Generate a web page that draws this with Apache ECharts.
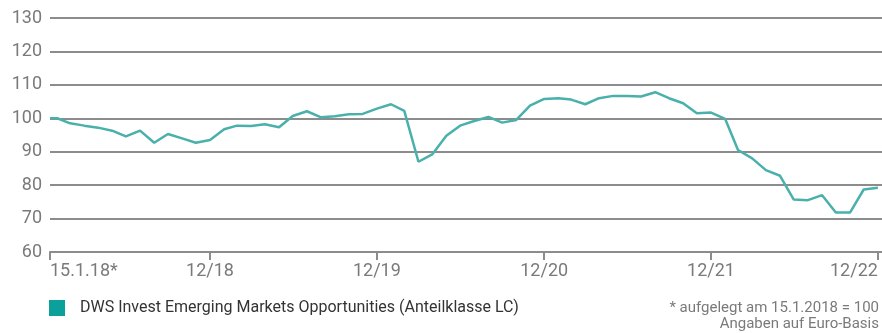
<!DOCTYPE html>
<html>
<head>
<meta charset="utf-8">
<script src="https://cdn.jsdelivr.net/npm/echarts@6/dist/echarts.min.js"></script>
<style>
html,body{margin:0;padding:0;background:#fff;}
#chart{width:882px;height:333px;}
</style>
</head>
<body>
<div id="chart"></div>
<script>
// Dates: launch date, then month-ends
const dates = [
  '2018-01-15',
  '2018-01-31','2018-02-28','2018-03-31','2018-04-30','2018-05-31','2018-06-30',
  '2018-07-31','2018-08-31','2018-09-30','2018-10-31','2018-11-30','2018-12-31',
  '2019-01-31','2019-02-28','2019-03-31','2019-04-30','2019-05-31','2019-06-30',
  '2019-07-31','2019-08-31','2019-09-30','2019-10-31','2019-11-30','2019-12-31',
  '2020-01-31','2020-02-29','2020-03-31','2020-04-30','2020-05-31','2020-06-30',
  '2020-07-31','2020-08-31','2020-09-30','2020-10-31','2020-11-30','2020-12-31',
  '2021-01-31','2021-02-28','2021-03-31','2021-04-30','2021-05-31','2021-06-30',
  '2021-07-31','2021-08-31','2021-09-30','2021-10-31','2021-11-30','2021-12-31',
  '2022-01-31','2022-02-28','2022-03-31','2022-04-30','2022-05-31','2022-06-30',
  '2022-07-31','2022-08-31','2022-09-30','2022-10-31','2022-11-30','2022-12-31'
];
const values = [
  100.0,
  100.0, 98.5, 97.8, 97.2, 96.3, 94.6, 96.3, 92.7, 95.3, 94.0, 92.7, 93.5,
  96.7, 97.8, 97.7, 98.2, 97.3, 100.7, 102.1, 100.3, 100.6, 101.2, 101.3, 102.9,
  104.2, 102.2, 87.0, 89.2, 94.8, 97.8, 99.2, 100.4, 98.7, 99.5, 103.8, 105.8,
  106.0, 105.6, 104.2, 106.0, 106.7, 106.7, 106.5, 107.8, 106.0, 104.5, 101.5, 101.7,
  99.8, 90.5, 88.0, 84.5, 82.8, 75.7, 75.5, 77.0, 71.8, 71.8, 78.7, 79.2
];
const tickDates = ['2018-01-15','2018-12-31','2019-12-31','2020-12-31','2021-12-31','2022-12-31'];
const tickLabels = ['15.1.18*','12/18','12/19','12/20','12/21','12/22'];
const yTicks = [60, 70, 80, 90, 100, 110, 120, 130];
const seriesName = 'DWS Invest Emerging Markets Opportunities (Anteilklasse LC)';
const footnote = ['* aufgelegt am 15.1.2018 = 100', 'Angaben auf Euro-Basis'];

function ts(s){ const p = s.split('-').map(Number); return Date.UTC(p[0], p[1]-1, p[2]); }
const DAY = 86400000;
const xMin = ts(dates[0]);
const xMax = xMin + 1820 * DAY;
const tickVals = tickDates.map(ts);
const data = dates.map((d, i) => [ts(d), values[i]]);

const chart = echarts.init(document.getElementById('chart'), null, {renderer: 'canvas'});
const font = 'Roboto, "Liberation Sans", sans-serif';
chart.setOption({
  animation: false,
  backgroundColor: '#ffffff',
  grid: {left: 50, right: 0, top: 18, bottom: 81, containLabel: false},
  xAxis: {
    type: 'value',
    min: xMin,
    max: xMax,
    splitLine: {show: false},
    axisLine: {show: true, lineStyle: {color: '#8c8c8c', width: 2}},
    axisTick: {show: true, customValues: tickVals, length: 8, lineStyle: {color: '#8c8c8c', width: 2}},
    axisLabel: {
      customValues: tickVals,
      alignMinLabel: 'left',
      alignMaxLabel: 'right',
      showMinLabel: true,
      showMaxLabel: true,
      margin: 10,
      color: '#7a7a7a',
      fontSize: 18,
      fontFamily: font,
      formatter: function (v) {
        const i = tickVals.indexOf(v);
        return i >= 0 ? tickLabels[i] : '';
      }
    }
  },
  yAxis: {
    type: 'value',
    min: yTicks[0],
    max: yTicks[yTicks.length - 1],
    interval: 10,
    axisLine: {show: false},
    axisTick: {show: false},
    splitLine: {show: true, lineStyle: {color: '#8c8c8c', width: 2}},
    axisLabel: {margin: 8, color: '#7a7a7a', fontSize: 18, fontFamily: font}
  },
  legend: {
    left: 49,
    top: 300,
    padding: 0,
    icon: 'rect',
    itemWidth: 16,
    itemHeight: 16,
    data: [{name: seriesName, itemStyle: {color: '#0ca09a'}}],
    textStyle: {color: '#333333', fontSize: 16, fontFamily: font, padding: [0, 0, 0, 10]}
  },
  graphic: [{
    type: 'text',
    style: {
      x: 879, y: 300,
      text: footnote.join('\n'),
      align: 'right',
      verticalAlign: 'top',
      fill: '#7a7a7a',
      font: '15px ' + font,
      lineHeight: 16
    }
  }],
  series: [{
    name: seriesName,
    type: 'line',
    data: data,
    showSymbol: false,
    symbol: 'none',
    itemStyle: {color: '#0ca09a'},
    lineStyle: {color: '#4ab0ab', width: 2.5},
    z: 5
  }]
});
</script>
</body>
</html>
